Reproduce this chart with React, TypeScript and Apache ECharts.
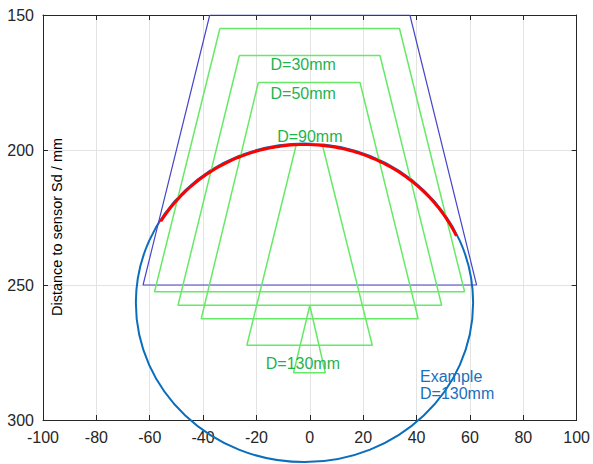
import { useEffect, useRef } from "react";
import * as echarts from "echarts";

// Sensor field (blue trapezoid)
const sensorX = [-37.5, 37.5, 62.5, -62.5, -37.5];
const sensorY = [150, 150, 250, 250, 150];

// Green detection zones for different object diameters
const zoneAX = [-33.7, 33.6, 58.0, -58.2, -33.7];
const zoneAY = [155, 155, 252.5, 252.5, 155];
const zoneBX = [-26.4, 26.3, 49.4, -49.4, -26.4];
const zoneBY = [165, 165, 257.5, 257.5, 165];
const zoneCX = [-19.3, 18.8, 40.6, -40.7, -19.3];
const zoneCY = [175, 175, 262.5, 262.5, 175];
const zoneDX = [-5.0, 4.6, 23.4, -23.6, -5.0];
const zoneDY = [197.7, 197.7, 272.3, 272.3, 197.7];
const zoneEX = [0, 5.8, -6.1, 0];
const zoneEY = [257.6, 282.5, 282.5, 257.6];

// Example object outline: centre x, centre y, radius x, radius y
const exampleEllipse = [-2, 256.6, 63.2, 59.0];
// Detected part of the object: start and end angle (degrees)
const detectedArc = [25, 149];

// Labels
const zoneLabels = ["D=30mm", "D=50mm", "D=90mm", "D=130mm"];
const zoneLabelX = [-2.5, -2.5, 0, -2.6];
const zoneLabelY = [168.4, 178.9, 195.0, 278.9];
const exampleLabel = "Example\nD=130mm";
const exampleLabelPos = [41.3, 287.1];

const pairs = (xs: number[], ys: number[]) => xs.map((x, i) => [x, ys[i]]);

const FONT = "'Liberation Sans', Arial, sans-serif";
const AXIS_COLOR = "#262626";
const GREEN_LINE = "#66ea66";
const GREEN_TEXT = "#1fb350";

export default function App() {
  const ref = useRef<HTMLDivElement>(null);
  useEffect(() => {
    document.body.style.margin = "0";
    if (!ref.current) return;
    const chart = echarts.init(ref.current, null, { renderer: "svg" });

    const baseAxis = {
      type: "value" as const,
      axisLine: { show: true, onZero: false, lineStyle: { color: AXIS_COLOR, width: 1 } },
      axisTick: { show: true, inside: true, length: 5, lineStyle: { color: AXIS_COLOR } },
    };

    const zoneSeries = [
      pairs(zoneAX, zoneAY),
      pairs(zoneBX, zoneBY),
      pairs(zoneCX, zoneCY),
      pairs(zoneDX, zoneDY),
      pairs(zoneEX, zoneEY),
    ].map((d) => ({
      type: "line" as const,
      data: d,
      symbol: "none",
      lineStyle: { color: GREEN_LINE, width: 1.5 },
      z: 3,
    }));

    chart.setOption({
      animation: false,
      textStyle: { fontFamily: FONT },
      grid: { left: 43, right: 13, top: 15, bottom: 44, containLabel: false },
      xAxis: [
        {
          ...baseAxis,
          min: -100,
          max: 100,
          interval: 20,
          position: "bottom",
          axisLabel: { fontSize: 16, color: AXIS_COLOR, margin: 9, fontFamily: FONT },
          splitLine: { show: true, lineStyle: { color: "#e3e3e3", width: 1 } },
        },
        {
          ...baseAxis,
          min: -100,
          max: 100,
          interval: 20,
          position: "top",
          axisLabel: { show: false },
          splitLine: { show: false },
        },
      ],
      yAxis: [
        {
          ...baseAxis,
          min: 150,
          max: 300,
          interval: 50,
          inverse: true,
          position: "left",
          axisLabel: { fontSize: 16, color: AXIS_COLOR, margin: 9, fontFamily: FONT },
          splitLine: { show: true, lineStyle: { color: "#e3e3e3", width: 1 } },
        },
        {
          ...baseAxis,
          min: 150,
          max: 300,
          interval: 50,
          inverse: true,
          position: "right",
          axisLabel: { show: false },
          splitLine: { show: false },
        },
      ],
      graphic: [
        {
          type: "text",
          x: 57,
          y: 227,
          rotation: Math.PI / 2,
          style: {
            text: "Distance to sensor Sd / mm",
            fill: "#000",
            font: `14.5px ${FONT}`,
            align: "center",
            verticalAlign: "middle",
          },
          z: 10,
        },
      ],
      series: [
        {
          type: "custom",
          clip: false,
          z: 2,
          data: [exampleEllipse],
          renderItem: (params: any, api: any) => {
            const c = api.coord([api.value(0), api.value(1)]);
            const s = api.size([api.value(2), api.value(3)]);
            return {
              type: "ellipse",
              shape: { cx: c[0], cy: c[1], rx: s[0], ry: s[1] },
              style: { fill: "none", stroke: "#0a6ebd", lineWidth: 2 },
            };
          },
        },
        {
          type: "line",
          data: pairs(sensorX, sensorY),
          symbol: "none",
          lineStyle: { color: "#4646c8", width: 1.2 },
          z: 3,
        },
        ...zoneSeries,
        {
          type: "custom",
          clip: false,
          z: 5,
          data: [[...exampleEllipse, ...detectedArc]],
          renderItem: (params: any, api: any) => {
            const c = api.coord([api.value(0), api.value(1)]);
            const s = api.size([api.value(2), api.value(3)]);
            const a0 = (api.value(4) * Math.PI) / 180;
            const a1 = (api.value(5) * Math.PI) / 180;
            const pts: number[][] = [];
            const n = 80;
            for (let i = 0; i <= n; i++) {
              const t = a0 + ((a1 - a0) * i) / n;
              pts.push([c[0] + (s[0] - 1) * Math.cos(t), c[1] - (s[1] - 1) * Math.sin(t)]);
            }
            return {
              type: "polyline",
              shape: { points: pts },
              style: { fill: "none", stroke: "#ff0000", lineWidth: 3 },
            };
          },
        },
        {
          type: "scatter",
          symbolSize: 0,
          z: 6,
          itemStyle: { opacity: 1 },
          data: zoneLabels.map((t, i) => ({ value: [zoneLabelX[i], zoneLabelY[i]], name: t })),
          label: {
            show: true,
            position: "inside",
            formatter: (p: any) => p.name,
            color: GREEN_TEXT,
            fontSize: 16,
            fontFamily: FONT,
            opacity: 1,
          },
          silent: true,
        },
        {
          type: "scatter",
          symbolSize: 0,
          z: 6,
          itemStyle: { opacity: 1 },
          data: [{ value: exampleLabelPos, name: exampleLabel }],
          label: {
            show: true,
            position: "inside",
            align: "left",
            formatter: (p: any) => p.name,
            color: "#1a70bd",
            fontSize: 16,
            lineHeight: 17.6,
            fontFamily: FONT,
            opacity: 1,
          },
          silent: true,
        },
      ],
    });
    return () => chart.dispose();
  }, []);
  return <div ref={ref} style={{ width: 593, height: 464 }} />;
}
